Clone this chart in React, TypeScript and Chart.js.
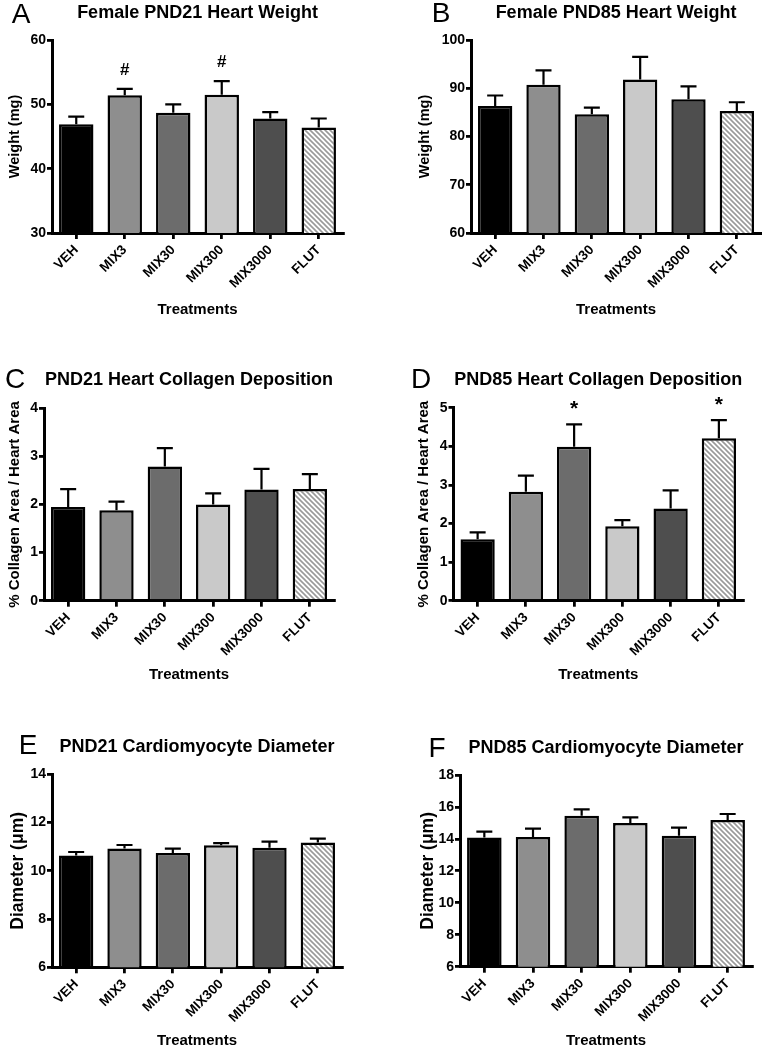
import React, { useEffect, useRef } from "react";
import { Chart, registerables } from "chart.js";

Chart.register(...registerables);

// ---------- data ----------
const categories = ["VEH", "MIX3", "MIX30", "MIX300", "MIX3000", "FLUT"];

const pnd21WeightMean = [46.9, 51.4, 48.7, 51.5, 47.8, 46.4];
const pnd21WeightSem = [1.2, 1.0, 1.3, 2.1, 1.0, 1.4];
const pnd21WeightMarks = ["", "#", "", "#", "", ""];

const pnd85WeightMean = [86.3, 90.7, 84.6, 91.8, 87.7, 85.3];
const pnd85WeightSem = [2.2, 3.0, 1.4, 4.7, 2.7, 1.8];
const pnd85WeightMarks = ["", "", "", "", "", ""];

const pnd21CollagenMean = [1.95, 1.88, 2.79, 2.0, 2.31, 2.32];
const pnd21CollagenSem = [0.37, 0.18, 0.38, 0.23, 0.43, 0.31];
const pnd21CollagenMarks = ["", "", "", "", "", ""];

const pnd85CollagenMean = [1.59, 2.82, 3.99, 1.93, 2.39, 4.21];
const pnd85CollagenSem = [0.18, 0.42, 0.58, 0.16, 0.47, 0.47];
const pnd85CollagenMarks = ["", "", "*", "", "", "*"];

const pnd21DiameterMean = [10.63, 10.92, 10.74, 11.06, 10.96, 11.17];
const pnd21DiameterSem = [0.15, 0.15, 0.18, 0.09, 0.25, 0.16];
const pnd21DiameterMarks = ["", "", "", "", "", ""];

const pnd85DiameterMean = [14.08, 14.12, 15.45, 15.0, 14.2, 15.18];
const pnd85DiameterSem = [0.37, 0.52, 0.4, 0.35, 0.5, 0.38];
const pnd85DiameterMarks = ["", "", "", "", "", ""];

// y-axis ranges [min, max, step]
const weight21Range = [30, 60, 10];
const weight85Range = [60, 100, 10];
const collagen21Range = [0, 4, 1];
const collagen85Range = [0, 5, 1];
const diameter21Range = [6, 14, 2];
const diameter85Range = [6, 18, 2];

// ---------- styling / layout ----------
const FONT = "'Liberation Sans', Arial, Helvetica, sans-serif";
const solidFills = ["#000000", "#8e8e8e", "#6c6c6c", "#c9c9c9", "#4e4e4e"];

type Panel = {
  letter: string;
  title: string;
  yTitle: string;
  yTitleSize: number;
  mean: number[];
  sem: number[];
  marks: string[];
  range: number[];
  left: number; top: number; w: number; h: number;
  L: number; T: number; R: number; B: number;
  titleY: number;
  letterX: number; letterY: number;
  yTitleCX: number;
  xTitleCY: number;
};

const panels: Panel[] = [
  {
    letter: "A", title: "Female PND21 Heart Weight", yTitle: "Weight (mg)", yTitleSize: 14.5,
    mean: pnd21WeightMean, sem: pnd21WeightSem, marks: pnd21WeightMarks, range: weight21Range,
    left: 0, top: 0, w: 381, h: 330, L: 52, T: 40, R: 343, B: 233,
    titleY: 13, letterX: 21, letterY: 15, yTitleCX: 15, xTitleCY: 310,
  },
  {
    letter: "B", title: "Female PND85 Heart Weight", yTitle: "Weight (mg)", yTitleSize: 14.5,
    mean: pnd85WeightMean, sem: pnd85WeightSem, marks: pnd85WeightMarks, range: weight85Range,
    left: 381, top: 0, w: 381, h: 330, L: 90, T: 40, R: 380, B: 233,
    titleY: 13, letterX: 60, letterY: 14, yTitleCX: 44.3, xTitleCY: 310,
  },
  {
    letter: "C", title: "PND21 Heart Collagen Deposition", yTitle: "% Collagen Area / Heart Area", yTitleSize: 15,
    mean: pnd21CollagenMean, sem: pnd21CollagenSem, marks: pnd21CollagenMarks, range: collagen21Range,
    left: 0, top: 330, w: 381, h: 360, L: 44, T: 78.3, R: 334, B: 270.7,
    titleY: 50.3, letterX: 15, letterY: 50.5, yTitleCX: 15, xTitleCY: 345,
  },
  {
    letter: "D", title: "PND85 Heart Collagen Deposition", yTitle: "% Collagen Area / Heart Area", yTitleSize: 15,
    mean: pnd85CollagenMean, sem: pnd85CollagenSem, marks: pnd85CollagenMarks, range: collagen85Range,
    left: 381, top: 330, w: 381, h: 360, L: 72.5, T: 77.7, R: 362, B: 270.7,
    titleY: 50.3, letterX: 40, letterY: 50, yTitleCX: 43.3, xTitleCY: 345,
  },
  {
    letter: "E", title: "PND21 Cardiomyocyte Diameter", yTitle: "Diameter (\u03bcm)", yTitleSize: 17.5,
    mean: pnd21DiameterMean, sem: pnd21DiameterSem, marks: pnd21DiameterMarks, range: diameter21Range,
    left: 0, top: 690, w: 381, h: 360, L: 52, T: 84.3, R: 342, B: 277.3,
    titleY: 56.7, letterX: 28, letterY: 56.7, yTitleCX: 18.3, xTitleCY: 351,
  },
  {
    letter: "F", title: "PND85 Cardiomyocyte Diameter", yTitle: "Diameter (\u03bcm)", yTitleSize: 17.5,
    mean: pnd85DiameterMean, sem: pnd85DiameterSem, marks: pnd85DiameterMarks, range: diameter85Range,
    left: 381, top: 690, w: 381, h: 360, L: 79, T: 85, R: 371, B: 276.7,
    titleY: 57.8, letterX: 56, letterY: 59, yTitleCX: 46.7, xTitleCY: 351,
  },
];

function makeHatch(): CanvasPattern | string {
  const s = 5;
  const c = document.createElement("canvas");
  c.width = s;
  c.height = s;
  const g = c.getContext("2d");
  if (!g) return "#ffffff";
  g.fillStyle = "#ffffff";
  g.fillRect(0, 0, s, s);
  g.strokeStyle = "#9a9a9a";
  g.lineWidth = 1.6;
  g.beginPath();
  g.moveTo(-1, -1);
  g.lineTo(s + 1, s + 1);
  g.moveTo(s - 1, -1);
  g.lineTo(s + 1, 1);
  g.moveTo(-1, s - 1);
  g.lineTo(1, s + 1);
  g.stroke();
  const p = g.createPattern(c, "repeat");
  return p || "#ffffff";
}

const errorBarPlugin = {
  id: "errorBars",
  afterDatasetsDraw(chart: any, _args: any, opts: any) {
    const ctx = chart.ctx;
    const meta = chart.getDatasetMeta(0);
    const y = chart.scales.y;
    const data = chart.data.datasets[0].data as number[];
    ctx.save();
    ctx.strokeStyle = "#000";
    ctx.fillStyle = "#000";
    ctx.lineWidth = 2.2;
    meta.data.forEach((bar: any, i: number) => {
      const top = y.getPixelForValue(data[i] + opts.sem[i]);
      ctx.beginPath();
      ctx.moveTo(bar.x, bar.y);
      ctx.lineTo(bar.x, top);
      ctx.moveTo(bar.x - 8, top);
      ctx.lineTo(bar.x + 8, top);
      ctx.stroke();
      const m = opts.marks[i];
      if (m) {
        ctx.font = `bold ${m === "*" ? 21 : 17}px ${FONT}`;
        ctx.textAlign = "center";
        ctx.textBaseline = "middle";
        ctx.fillText(m, bar.x, top - (m === "*" ? 15 : 19));
      }
    });
    ctx.restore();
  },
};

const letterPlugin = {
  id: "panelLetter",
  afterDraw(chart: any, _args: any, opts: any) {
    const ctx = chart.ctx;
    ctx.save();
    ctx.fillStyle = "#000";
    ctx.font = `normal 28px ${FONT}`;
    ctx.textAlign = "center";
    ctx.textBaseline = "middle";
    ctx.fillText(opts.letter, opts.x, opts.y);
    ctx.restore();
  },
};

function PanelChart({ p }: { p: Panel }) {
  const ref = useRef<HTMLCanvasElement | null>(null);
  useEffect(() => {
    if (!ref.current) return;
    const hatch = makeHatch();
    const fills: any[] = [...solidFills, hatch];
    const titleLH = 18 * 1.2;
    const titlePadTop = p.titleY - titleLH / 2;
    const titlePadBottom = p.T - titleLH - titlePadTop;
    const yLH = p.yTitleSize * 1.2;
    const xLH = 15 * 1.2;
    const chart = new Chart(ref.current, {
      type: "bar",
      data: {
        labels: categories,
        datasets: [
          {
            data: p.mean,
            backgroundColor: fills,
            borderColor: "#000",
            borderWidth: 2.5,
            categoryPercentage: 1,
            barPercentage: 0.71,
          },
        ],
      },
      options: {
        responsive: false,
        animation: false,
        layout: { padding: { left: 0, top: 0, bottom: 0, right: p.w - p.R } },
        plugins: {
          legend: { display: false },
          tooltip: { enabled: false },
          title: {
            display: true,
            text: p.title,
            fullSize: false,
            color: "#000",
            font: { family: FONT, size: 18, weight: "bold", lineHeight: 1.2 },
            padding: { top: titlePadTop, bottom: titlePadBottom },
          },
          errorBars: { sem: p.sem, marks: p.marks },
          panelLetter: { letter: p.letter, x: p.letterX, y: p.letterY },
        } as any,
        scales: {
          x: {
            type: "category",
            grid: {
              offset: false,
              drawOnChartArea: false,
              drawTicks: true,
              tickLength: 6,
              color: "#000",
              lineWidth: 2.8,
            },
            border: { color: "#000", width: 3 },
            ticks: {
              color: "#000",
              font: { family: FONT, size: 13.5, weight: "bold" },
              minRotation: 45,
              maxRotation: 45,
              padding: 3,
              autoSkip: false,
            },
            title: {
              display: true,
              text: "Treatments",
              color: "#000",
              font: { family: FONT, size: 15, weight: "bold", lineHeight: 1.2 },
              padding: { top: 0, bottom: Math.max(0, p.h - xLH / 2 - p.xTitleCY) },
            },
            afterFit: (s: any) => {
              s.height = p.h - p.B;
            },
          },
          y: {
            type: "linear",
            min: p.range[0],
            max: p.range[1],
            beginAtZero: false,
            grid: {
              drawOnChartArea: false,
              drawTicks: true,
              tickLength: 5,
              color: "#000",
              lineWidth: 2.8,
            },
            border: { color: "#000", width: 3 },
            ticks: {
              stepSize: p.range[2],
              color: "#000",
              font: { family: FONT, size: 14, weight: "bold" },
              padding: 1,
            },
            title: {
              display: true,
              text: p.yTitle,
              color: "#000",
              font: { family: FONT, size: p.yTitleSize, weight: "bold", lineHeight: 1.2 },
              padding: { top: Math.max(0, p.yTitleCX - yLH / 2), bottom: 0 },
            },
            afterFit: (s: any) => {
              s.width = p.L;
            },
          },
        },
      } as any,
      plugins: [errorBarPlugin, letterPlugin],
    });
    return () => chart.destroy();
  }, [p]);
  return (
    <canvas
      ref={ref}
      width={p.w}
      height={p.h}
      style={{ position: "absolute", left: p.left, top: p.top, width: p.w, height: p.h }}
    />
  );
}

export default function App() {
  return (
    <div style={{ position: "absolute", left: 0, top: 0, width: 762, height: 1050, background: "#fff" }}>
      {panels.map((p) => (
        <PanelChart key={p.letter} p={p} />
      ))}
    </div>
  );
}
